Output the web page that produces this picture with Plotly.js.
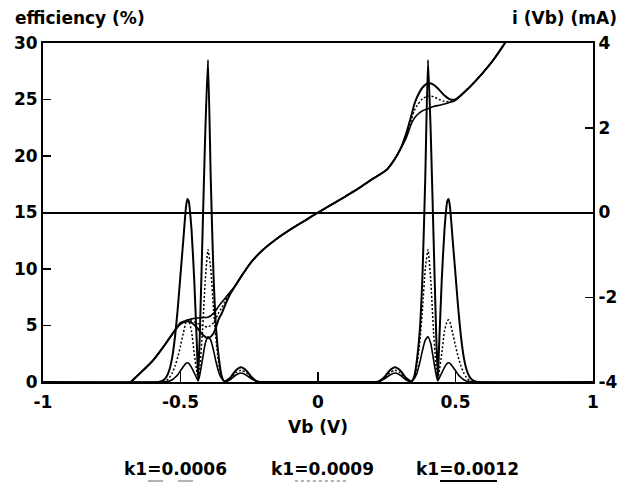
<!DOCTYPE html>
<html>
<head>
<meta charset="utf-8">
<script src="https://cdn.plot.ly/plotly-3.0.1.min.js"></script>
<style>html,body{margin:0;padding:0;background:#fff;}#chart{width:622px;height:484px;}</style>
</head>
<body>
<div id="chart"></div>
<script>
// ---- data ----
const seriesNames = ["k1=0.0006", "k1=0.0009", "k1=0.0012"];

// bias voltage grid for efficiency curves (V)
const xEff = [-1, -0.58, -0.56, -0.55, -0.54, -0.53, -0.52, -0.51, -0.50, -0.49, -0.48, -0.475, -0.47, -0.46, -0.45, -0.44, -0.436, -0.43, -0.42, -0.41, -0.40, -0.39, -0.38, -0.37, -0.36, -0.35, -0.34, -0.32, -0.30, -0.28, -0.26, -0.24, -0.22, -0.20,
  0,
  0.20, 0.22, 0.24, 0.26, 0.28, 0.30, 0.32, 0.34, 0.35, 0.36, 0.37, 0.38, 0.39, 0.40, 0.41, 0.42, 0.43, 0.436, 0.44, 0.45, 0.46, 0.47, 0.475, 0.48, 0.49, 0.50, 0.51, 0.52, 0.53, 0.54, 0.55, 0.56, 0.58, 1];

// efficiency (%)
const effLow = [0,
  0, 0, 0.03, 0.08, 0.2, 0.4, 0.65, 1.0, 1.35, 1.65, 1.7, 1.65, 1.3, 0.8, 0.3, 0.1, 0.6, 2.0, 3.4, 4.0, 3.7, 2.8, 1.7, 0.8, 0.3, 0.03, 0.2, 0.6, 0.8, 0.6, 0.25, 0.02, 0,
  0,
  0, 0.02, 0.25, 0.6, 0.8, 0.6, 0.2, 0.03, 0.3, 0.8, 1.7, 2.8, 3.7, 4.0, 3.4, 2.0, 0.6, 0.1, 0.3, 0.8, 1.3, 1.65, 1.7, 1.65, 1.35, 1.0, 0.65, 0.4, 0.2, 0.08, 0.03, 0, 0,
  0];
const effMid = [0,
  0, 0.05, 0.15, 0.4, 0.8, 1.4, 2.2, 3.2, 4.3, 5.3, 5.5, 5.4, 4.5, 2.5, 0.8, 0.2, 1.2, 4.5, 9, 11.7, 10, 6.5, 3.5, 1.5, 0.4, 0.05, 0.3, 0.8, 1.05, 0.8, 0.3, 0.03, 0,
  0,
  0, 0.03, 0.3, 0.8, 1.05, 0.8, 0.3, 0.05, 0.4, 1.5, 3.5, 6.5, 10, 11.7, 9, 4.5, 1.2, 0.2, 0.8, 2.5, 4.5, 5.4, 5.5, 5.3, 4.3, 3.2, 2.2, 1.4, 0.8, 0.4, 0.15, 0.05, 0,
  0];
const effHigh = [0,
  0, 0.2, 0.5, 1.1, 2.2, 4, 6.5, 9.5, 12.5, 15.5, 16.2, 16, 13.5, 9, 3, 0.3, 4, 13, 22, 28.5, 18, 9.5, 4.5, 2.0, 0.5, 0.05, 0.35, 1.0, 1.3, 1.0, 0.4, 0.05, 0,
  0,
  0, 0.05, 0.4, 1.0, 1.3, 1.0, 0.35, 0.05, 0.5, 2.0, 4.5, 9.5, 18, 28.5, 22, 13, 4, 0.3, 3, 9, 13.5, 16, 16.2, 15.5, 12.5, 9.5, 6.5, 4, 2.2, 1.1, 0.5, 0.2, 0,
  0];

// bias voltage grid for current curves (V)
const xCur = [-0.72, -0.68, -0.64, -0.60, -0.56, -0.52, -0.50, -0.48, -0.46, -0.44, -0.42, -0.40, -0.38, -0.36, -0.35, -0.34, -0.32, -0.30, -0.27, -0.24, -0.20, -0.15, -0.10, -0.05,
  0,
  0.05, 0.10, 0.15, 0.20, 0.25, 0.28, 0.30, 0.32, 0.34, 0.35, 0.36, 0.38, 0.40, 0.42, 0.44, 0.46, 0.48, 0.50, 0.55, 0.60, 0.64, 0.68, 0.72];

// current i(Vb) (mA)
const curLow = [-4.3, -4.0, -3.75, -3.49, -3.15, -2.78, -2.6, -2.55, -2.51, -2.49, -2.48, -2.47, -2.38, -2.2, -2.12, -2.04, -1.88, -1.72, -1.42, -1.15, -0.88, -0.62, -0.4, -0.2,
  0,
  0.19, 0.38, 0.58, 0.8, 1.01, 1.27, 1.5, 1.75, 2.1, 2.22, 2.3, 2.4, 2.45, 2.5, 2.53, 2.56, 2.6, 2.65, 2.95, 3.3, 3.62, 4.0, 4.4];
const curMid = [-4.3, -4.0, -3.75, -3.49, -3.15, -2.78, -2.61, -2.56, -2.56, -2.61, -2.67, -2.7, -2.6, -2.35, -2.25, -2.12, -1.9, -1.72, -1.42, -1.15, -0.88, -0.62, -0.4, -0.2,
  0,
  0.19, 0.38, 0.58, 0.8, 1.01, 1.27, 1.5, 1.8, 2.2, 2.4, 2.52, 2.68, 2.75, 2.73, 2.67, 2.62, 2.62, 2.66, 2.95, 3.3, 3.62, 4.0, 4.4];
const curHigh = [-4.3, -4.0, -3.75, -3.49, -3.15, -2.78, -2.63, -2.57, -2.6, -2.72, -2.88, -2.97, -2.85, -2.5, -2.38, -2.22, -1.93, -1.72, -1.42, -1.15, -0.88, -0.62, -0.4, -0.2,
  0,
  0.19, 0.38, 0.58, 0.8, 1.01, 1.27, 1.5, 1.85, 2.3, 2.55, 2.72, 2.95, 3.05, 3.02, 2.9, 2.76, 2.67, 2.67, 2.95, 3.3, 3.62, 4.0, 4.4];

// tick labels
const xTickVals = [-1, -0.5, 0, 0.5, 1];
const xTickText = ["-1", "-0.5", "0", "0.5", "1"];
const yTickVals = [0, 5, 10, 15, 20, 25, 30];
const yTickText = ["0", "5", "10", "15", "20", "25", "30"];
const y2TickVals = [-4, -2, 0, 2, 4];
const y2TickText = ["-4", "-2", "0", "2", "4"];

// ---- styling ----
const FONT = "DejaVu Sans, Liberation Sans, Arial, sans-serif";
const TXT = {family: FONT, size: 17, color: "#000", weight: "bold"};
const styles = [
  {color: "#000", width: 1.6, dash: "solid"},
  {color: "#000", width: 1.5, dash: "2px,2px"},
  {color: "#000", width: 2.0, dash: "solid"}
];
const effSeries = [effLow, effMid, effHigh];
const curSeries = [curLow, curMid, curHigh];

const traces = [];
for (let k = 0; k < 3; k++) {
  traces.push({
    x: xEff, y: effSeries[k], type: "scatter", mode: "lines", name: seriesNames[k],
    line: {color: styles[k].color, width: styles[k].width, dash: styles[k].dash, shape: "spline", smoothing: 0.5},
    showlegend: false, hoverinfo: "skip", yaxis: "y"
  });
}
for (let k = 0; k < 3; k++) {
  traces.push({
    x: xCur, y: curSeries[k], type: "scatter", mode: "lines", name: seriesNames[k] + " i",
    line: {color: styles[k].color, width: styles[k].width, dash: styles[k].dash, shape: "spline", smoothing: 0.8},
    showlegend: false, hoverinfo: "skip", yaxis: "y2"
  });
}

const legendY = -0.2566, legendLineY = -0.292;
const legendX = [0.2418, 0.5073, 0.7727];
const legendLine = [
  {x0: 0.191, x1: 0.2945, color: "#999", width: 1.5, dash: "longdash"},
  {x0: 0.458, x1: 0.5527, color: "#999", width: 1.5, dash: "dot"},
  {x0: 0.7218, x1: 0.8255, color: "#000", width: 2, dash: "solid"}
];

const annotations = [
  {text: "efficiency (%)", xref: "paper", yref: "paper", x: -0.0545, y: 1.075, xanchor: "left", yanchor: "middle", showarrow: false, font: TXT},
  {text: "i (Vb) (mA)", xref: "paper", yref: "paper", x: 1.047, y: 1.075, xanchor: "right", yanchor: "middle", showarrow: false, font: TXT}
];
const shapes = [];
for (let k = 0; k < 3; k++) {
  annotations.push({text: seriesNames[k], xref: "paper", yref: "paper", x: legendX[k], y: legendY, xanchor: "center", yanchor: "middle", showarrow: false, font: TXT});
  shapes.push({type: "line", xref: "paper", yref: "paper", x0: legendLine[k].x0, x1: legendLine[k].x1, y0: legendLineY, y1: legendLineY, line: {color: legendLine[k].color, width: legendLine[k].width, dash: legendLine[k].dash}});
}

const layout = {
  width: 622, height: 484,
  margin: {l: 43, r: 29, t: 43, b: 102, pad: 0},
  paper_bgcolor: "#fff", plot_bgcolor: "#fff",
  font: TXT,
  showlegend: false,
  xaxis: {
    range: [-1, 1], tickvals: xTickVals, ticktext: xTickText,
    ticks: "inside", ticklen: 10, tickwidth: 1.5, tickcolor: "#000",
    showline: true, linewidth: 2, linecolor: "#000", mirror: true,
    showgrid: false, zeroline: false, automargin: false,
    ticklabelstandoff: 4,
    title: {text: "Vb (V)", standoff: 10, font: TXT},
    tickfont: TXT
  },
  yaxis: {
    range: [0, 30], tickvals: yTickVals, ticktext: yTickText,
    ticks: "inside", ticklen: 8, tickwidth: 1.5, tickcolor: "#000",
    showline: true, linewidth: 2, linecolor: "#000", mirror: false,
    showgrid: false, zeroline: false, automargin: false,
    tickfont: TXT
  },
  yaxis2: {
    range: [-4, 4], tickvals: y2TickVals, ticktext: y2TickText,
    overlaying: "y", side: "right",
    ticks: "inside", ticklen: 8, tickwidth: 1.5, tickcolor: "#000",
    showline: true, linewidth: 2, linecolor: "#000",
    showgrid: false, zeroline: true, zerolinecolor: "#000", zerolinewidth: 2, automargin: false,
    tickfont: TXT
  },
  annotations: annotations,
  shapes: shapes
};

Plotly.newPlot("chart", traces, layout, {displayModeBar: false, staticPlot: true});
</script>
</body>
</html>
